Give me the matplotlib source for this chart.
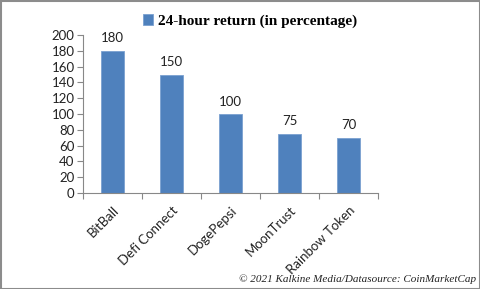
import numpy as np
import matplotlib.pyplot as plt
from matplotlib.patches import Rectangle

# data
coins = ['BitBall', 'Defi Connect', 'DogePepsi', 'MoonTrust', 'Rainbow Token']
returns = [180, 150, 100, 75, 70]
yticks = [0, 20, 40, 60, 80, 100, 120, 140, 160, 180, 200]

W, H = 481, 289
fig = plt.figure(figsize=(W / 100, H / 100), dpi=100)
ax = fig.add_axes([83 / W, 1 - 193 / H, (378 - 83) / W, (193 - 35) / H])

x = np.arange(len(coins))
bar_col = '#4f81bd'
bars = ax.bar(x, returns, width=0.39, color=bar_col, edgecolor='#7aa0d0', linewidth=0.6,
              label='24-hour return (in percentage)')
for xi, v in zip(x, returns):
    ax.text(xi, v + 8, str(v), ha='center', va='bottom', fontsize=9.5,
            family='Lato', color='#222222')

ax.set_xlim(-0.5, len(coins) - 0.5)
ax.set_ylim(0, 200)
ax.set_yticks(yticks)
ax.set_yticklabels([str(t) for t in yticks], family='Lato', fontsize=9.5, color='#222222')
ax.set_xticks(x)
ax.set_xticklabels(coins, rotation=45, ha='right', rotation_mode='anchor',
                   family='Lato', fontsize=9.5, color='#222222')
ax.tick_params(axis='x', length=0, pad=8)
ax.set_xticks(np.arange(len(coins) + 1) - 0.5, minor=True)
ax.tick_params(axis='x', which='minor', length=4, color='#888888', width=0.8)
ax.tick_params(axis='y', length=4, color='#888888', width=0.8, pad=2)
for s in ['top', 'right']:
    ax.spines[s].set_visible(False)
for s in ['left', 'bottom']:
    ax.spines[s].set_color('#888888')
    ax.spines[s].set_linewidth(0.8)

leg = fig.legend(handles=[bars], loc='center', bbox_to_anchor=(250 / W, 1 - 21 / H),
                 frameon=False, handlelength=0.7, handleheight=0.7, handletextpad=0.3,
                 prop={'family': 'Liberation Serif', 'weight': 'bold', 'size': 11})

fig.text(476 / W, 1 - 279 / H, '© 2021 Kalkine Media/Datasource: CoinMarketCap',
         ha='right', va='center', fontsize=8, style='italic', family='Liberation Serif',
         color='#222222')

fig.patches.append(Rectangle((0.5 / W, 0.5 / H), 1 - 1.5 / W, 1 - 1.5 / H,
                             transform=fig.transFigure, fill=False,
                             edgecolor='#8c8c8c', linewidth=1.5))

fig.savefig('out.png', dpi=100)
